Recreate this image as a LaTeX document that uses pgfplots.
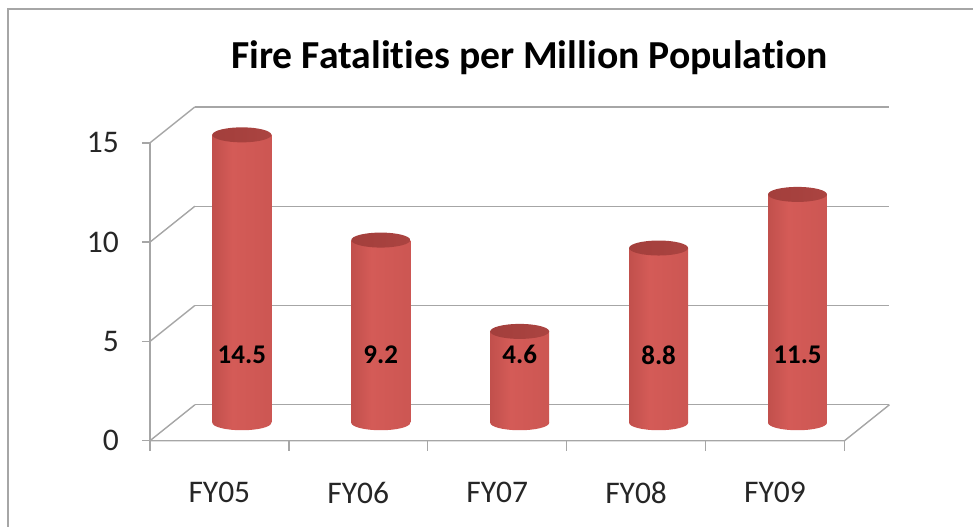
\documentclass[border=0pt]{standalone}
\usepackage{pgfplots}
\pgfplotsset{compat=1.18}
\usepackage{fontspec}
\setmainfont{Carlito}[Ligatures=NoCommon]
\definecolor{gridc}{HTML}{A6A6A6}
\definecolor{barL}{HTML}{A43F3C}
\definecolor{barM}{HTML}{D45B57}
\definecolor{barR}{HTML}{A9423F}
\definecolor{topL}{HTML}{A03D3A}
\definecolor{topR}{HTML}{B04744}
\pgfdeclarehorizontalshading{cyl}{100bp}{color(0bp)=(barL); color(12bp)=(barL!70!barM); color(42bp)=(barM); color(78bp)=(barM!80!barR); color(100bp)=(barR)}
\pgfdeclarehorizontalshading{cyltopsh}{100bp}{color(0bp)=(topL); color(50bp)=(topL!60!topR); color(100bp)=(topR)}
\tikzset{gl/.style={draw=gridc, line width=1.4pt}}
\pgfdeclareplotmark{cylbot}{\path[draw=none, shade, shading=cyl] (0,0) ellipse (29.5pt and 7.5pt);}
\pgfdeclareplotmark{cyltop}{\path[draw=none, shade, shading=cyltopsh] (0,0) ellipse (29.5pt and 7.5pt);}
\pgfplotsset{cylbar/.style={ybar, bar width=59pt, bar shift=0pt, draw=none, shade, shading=cyl}}
\begin{document}
\begin{tikzpicture}
\draw[gridc, line width=1.2pt] (8pt,0pt) -- (8pt,518pt) -- (974pt,518pt);
\path (0,0) (974pt,527pt);
\node[font=\fontsize{39.7}{46}\selectfont\bfseries] at (530pt,469pt) {Fire Fatalities per Million Population};
\begin{axis}[
  at={(172.5pt,104pt)}, anchor=south west,
  scale only axis, width=695pt, height=298pt,
  xmin=0, xmax=5, ymin=0, ymax=15,
  clip=false,
  axis line style={draw=none},
  major tick length=0pt,
  xtick={0.5,1.5,2.5,3.5,4.5},
  xticklabels={FY05,FY06,FY07,FY08,FY09},
  ytick={0,5,10,15},
  /pgf/number format/assume math mode=true,
  tick label style={font=\fontsize{31.5}{37}\selectfont, text=black!85},
  yticklabel style={inner sep=0pt, anchor=east, xshift=-53.5pt, yshift=-18pt},
  xticklabel style={inner sep=0pt, anchor=north, xshift=-22.5pt, yshift=-59pt},
]
\draw[gl] ([shift={(22.5pt,18pt)}]axis cs:0,0) -- ([shift={(22.5pt,18pt)}]axis cs:5,0);
\draw[gl] ([shift={(22.5pt,18pt)}]axis cs:0,5) -- ([shift={(22.5pt,18pt)}]axis cs:5,5);
\draw[gl] ([shift={(22.5pt,18pt)}]axis cs:0,10) -- ([shift={(22.5pt,18pt)}]axis cs:5,10);
\draw[gl] ([shift={(22.5pt,18pt)}]axis cs:0,15) -- ([shift={(22.5pt,18pt)}]axis cs:5,15);
\draw[gl] ([shift={(-22.5pt,-18pt)}]axis cs:0,0) -- ([shift={(22.5pt,18pt)}]axis cs:0,0);
\draw[gl] ([shift={(-22.5pt,-18pt)}]axis cs:0,5) -- ([shift={(22.5pt,18pt)}]axis cs:0,5);
\draw[gl] ([shift={(-22.5pt,-18pt)}]axis cs:0,10) -- ([shift={(22.5pt,18pt)}]axis cs:0,10);
\draw[gl] ([shift={(-22.5pt,-18pt)}]axis cs:0,15) -- ([shift={(22.5pt,18pt)}]axis cs:0,15);
\draw[gl] ([shift={(-30.5pt,-18pt)}]axis cs:0,0) -- ([shift={(-22.5pt,-18pt)}]axis cs:0,0);
\draw[gl] ([shift={(-30.5pt,-18pt)}]axis cs:0,5) -- ([shift={(-22.5pt,-18pt)}]axis cs:0,5);
\draw[gl] ([shift={(-30.5pt,-18pt)}]axis cs:0,10) -- ([shift={(-22.5pt,-18pt)}]axis cs:0,10);
\draw[gl] ([shift={(-30.5pt,-18pt)}]axis cs:0,15) -- ([shift={(-22.5pt,-18pt)}]axis cs:0,15);
\draw[gl] ([shift={(-22.5pt,-18pt)}]axis cs:0,0) -- ([shift={(-22.5pt,-18pt)}]axis cs:0,15);
\draw[gl] ([shift={(-22.5pt,-18pt)}]axis cs:0,0) -- ([shift={(-22.5pt,-18pt)}]axis cs:5,0) -- ([shift={(22.5pt,18pt)}]axis cs:5,0);
\draw[gl] ([shift={(-22.5pt,-18pt)}]axis cs:0,0) -- ([shift={(-22.5pt,-28pt)}]axis cs:0,0);
\draw[gl] ([shift={(-22.5pt,-18pt)}]axis cs:1,0) -- ([shift={(-22.5pt,-28pt)}]axis cs:1,0);
\draw[gl] ([shift={(-22.5pt,-18pt)}]axis cs:2,0) -- ([shift={(-22.5pt,-28pt)}]axis cs:2,0);
\draw[gl] ([shift={(-22.5pt,-18pt)}]axis cs:3,0) -- ([shift={(-22.5pt,-28pt)}]axis cs:3,0);
\draw[gl] ([shift={(-22.5pt,-18pt)}]axis cs:4,0) -- ([shift={(-22.5pt,-28pt)}]axis cs:4,0);
\draw[gl] ([shift={(-22.5pt,-18pt)}]axis cs:5,0) -- ([shift={(-22.5pt,-28pt)}]axis cs:5,0);
% cylinder bodies, one plot per bar so each gets its own shading
\addplot[cylbar] coordinates {(0.5,14.5)};
\addplot[cylbar] coordinates {(1.5,9.2)};
\addplot[cylbar] coordinates {(2.5,4.6)};
\addplot[cylbar] coordinates {(3.5,8.8)};
\addplot[cylbar] coordinates {(4.5,11.5)};
% bottom ellipses of the cylinders
\addplot[only marks, mark=cylbot] coordinates {(0.5,0) (1.5,0) (2.5,0) (3.5,0) (4.5,0)};
% top ellipses
\addplot[only marks, mark=cyltop] coordinates {(0.5,14.5) (1.5,9.2) (2.5,4.6) (3.5,8.8) (4.5,11.5)};
\node[font=\fontsize{27}{32}\selectfont\bfseries, text=black] at (axis cs:0.5,3.42) {14.5};
\node[font=\fontsize{27}{32}\selectfont\bfseries, text=black] at (axis cs:1.5,3.42) {9.2};
\node[font=\fontsize{27}{32}\selectfont\bfseries, text=black] at (axis cs:2.5,3.42) {4.6};
\node[font=\fontsize{27}{32}\selectfont\bfseries, text=black] at (axis cs:3.5,3.42) {8.8};
\node[font=\fontsize{27}{32}\selectfont\bfseries, text=black] at (axis cs:4.5,3.42) {11.5};
\end{axis}
\end{tikzpicture}
\end{document}
